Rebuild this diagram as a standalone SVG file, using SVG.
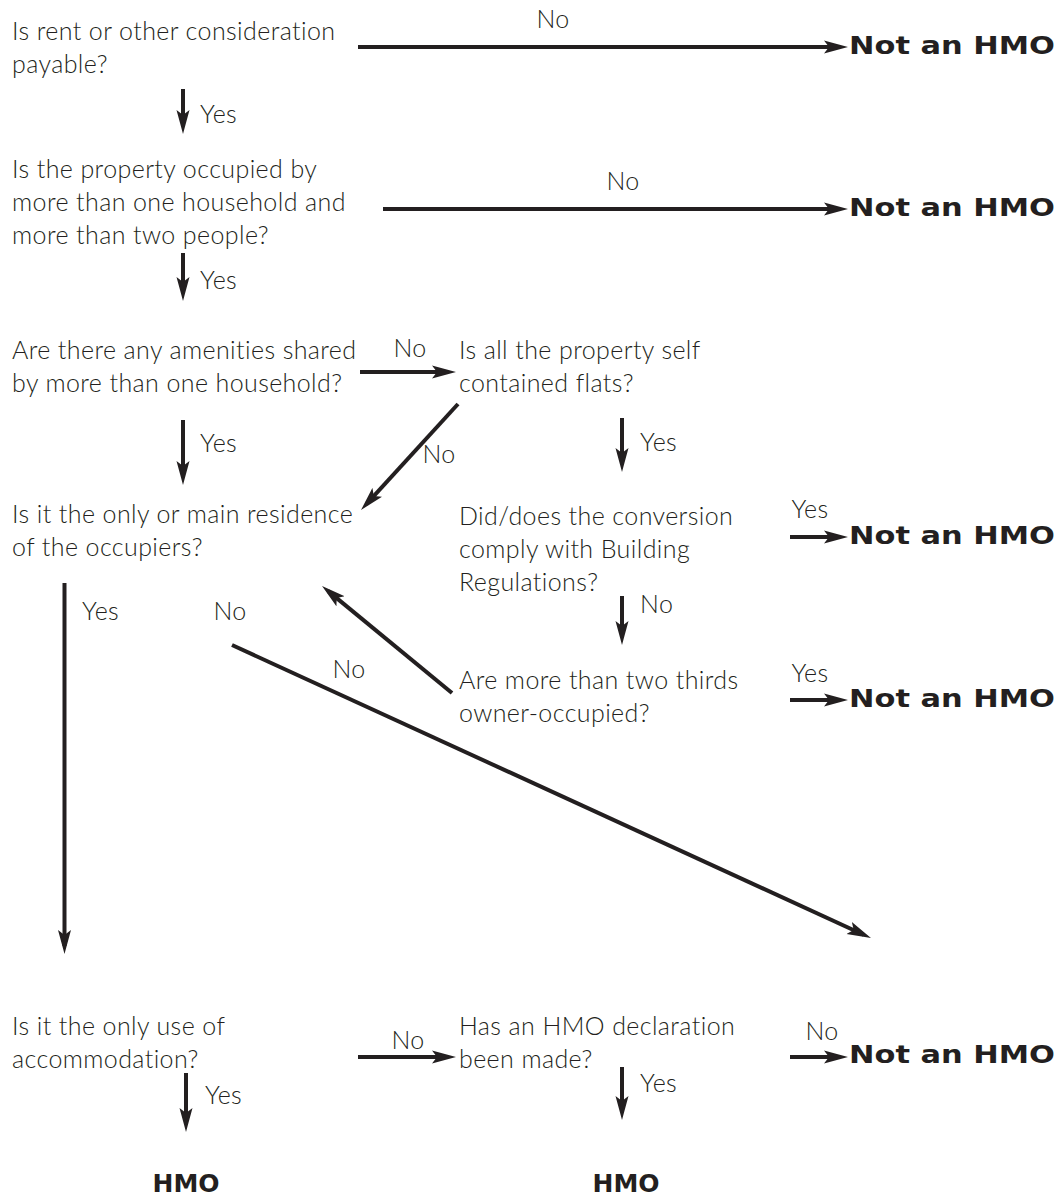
<svg xmlns="http://www.w3.org/2000/svg" width="1060" height="1198" viewBox="0 0 1060 1198">
<style>
.t{font-family:Lato,"Open Sans","Liberation Sans",sans-serif;font-weight:300;font-size:25px;letter-spacing:0.4px;fill:#231f20}
.b{font-family:"DejaVu Sans","Liberation Sans",sans-serif;font-weight:700;font-size:25px;fill:#231f20}
.l{stroke:#231f20;stroke-width:4;fill:none}
</style>
<defs>
<marker id="a" markerUnits="userSpaceOnUse" markerWidth="26" markerHeight="14" refX="16" refY="7" orient="auto">
<path d="M0,0.5 L24,7 L0,13.5 L5,7 Z" fill="#231f20"/>
</marker>
</defs>
<rect width="1060" height="1198" fill="#fff"/>
<g id="connectors">
<line class="l" x1="358" y1="47" x2="840" y2="47" marker-end="url(#a)"/>
<line class="l" x1="183" y1="89" x2="183" y2="126" marker-end="url(#a)"/>
<line class="l" x1="383" y1="209" x2="840" y2="209" marker-end="url(#a)"/>
<line class="l" x1="183" y1="253" x2="183" y2="293" marker-end="url(#a)"/>
<line class="l" x1="360" y1="372" x2="448" y2="372" marker-end="url(#a)"/>
<line class="l" x1="183" y1="420" x2="183" y2="477" marker-end="url(#a)"/>
<line class="l" x1="458" y1="404" x2="366.4" y2="504.1" marker-end="url(#a)"/>
<line class="l" x1="622" y1="418" x2="622" y2="464" marker-end="url(#a)"/>
<line class="l" x1="790" y1="537" x2="840" y2="537" marker-end="url(#a)"/>
<line class="l" x1="622" y1="596" x2="622" y2="637" marker-end="url(#a)"/>
<line class="l" x1="452" y1="693" x2="328.2" y2="591.1" marker-end="url(#a)"/>
<line class="l" x1="790" y1="700" x2="840" y2="700" marker-end="url(#a)"/>
<line class="l" x1="64.5" y1="583" x2="64.5" y2="946" marker-end="url(#a)"/>
<line class="l" x1="232" y1="645" x2="863.7" y2="934.7" marker-end="url(#a)"/>
<line class="l" x1="358" y1="1057" x2="448" y2="1057" marker-end="url(#a)"/>
<line class="l" x1="790" y1="1057" x2="840" y2="1057" marker-end="url(#a)"/>
<line class="l" x1="186" y1="1073" x2="186" y2="1124" marker-end="url(#a)"/>
<line class="l" x1="622" y1="1067" x2="622" y2="1112" marker-end="url(#a)"/>
<text class="t" x="553" y="28" text-anchor="middle">No</text>
<text class="t" x="200" y="123">Yes</text>
<text class="t" x="623" y="190" text-anchor="middle">No</text>
<text class="t" x="200" y="289">Yes</text>
<text class="t" x="410" y="357" text-anchor="middle">No</text>
<text class="t" x="200" y="452">Yes</text>
<text class="t" x="439" y="463" text-anchor="middle">No</text>
<text class="t" x="640" y="451">Yes</text>
<text class="t" x="810" y="518" text-anchor="middle">Yes</text>
<text class="t" x="640" y="613">No</text>
<text class="t" x="82" y="620">Yes</text>
<text class="t" x="230" y="620" text-anchor="middle">No</text>
<text class="t" x="349" y="678" text-anchor="middle">No</text>
<text class="t" x="810" y="682" text-anchor="middle">Yes</text>
<text class="t" x="408" y="1049" text-anchor="middle">No</text>
<text class="t" x="822" y="1040" text-anchor="middle">No</text>
<text class="t" x="205" y="1104">Yes</text>
<text class="t" x="640" y="1092">Yes</text>
</g>
<g id="q1"><text class="t" x="12" y="40">Is rent or other consideration</text><text class="t" x="12" y="73">payable?</text></g>
<g id="n1"><text class="b" x="849" y="54" textLength="206" lengthAdjust="spacingAndGlyphs">Not an HMO</text></g>
<g id="q2"><text class="t" x="12" y="178">Is the property occupied by</text><text class="t" x="12" y="211">more than one household and</text><text class="t" x="12" y="244">more than two people?</text></g>
<g id="n2"><text class="b" x="849" y="216" textLength="206" lengthAdjust="spacingAndGlyphs">Not an HMO</text></g>
<g id="q3"><text class="t" x="12" y="359">Are there any amenities shared</text><text class="t" x="12" y="392">by more than one household?</text></g>
<g id="q4"><text class="t" x="459" y="359">Is all the property self</text><text class="t" x="459" y="392">contained flats?</text></g>
<g id="q5"><text class="t" x="12" y="523">Is it the only or main residence</text><text class="t" x="12" y="556">of the occupiers?</text></g>
<g id="q6"><text class="t" x="459" y="525">Did/does the conversion</text><text class="t" x="459" y="558">comply with Building</text><text class="t" x="459" y="591">Regulations?</text></g>
<g id="n3"><text class="b" x="849" y="544" textLength="206" lengthAdjust="spacingAndGlyphs">Not an HMO</text></g>
<g id="q7"><text class="t" x="459" y="689">Are more than two thirds</text><text class="t" x="459" y="722">owner-occupied?</text></g>
<g id="n4"><text class="b" x="849" y="707" textLength="206" lengthAdjust="spacingAndGlyphs">Not an HMO</text></g>
<g id="q8"><text class="t" x="12" y="1035">Is it the only use of</text><text class="t" x="12" y="1068">accommodation?</text></g>
<g id="q9"><text class="t" x="459" y="1035">Has an HMO declaration</text><text class="t" x="459" y="1068">been made?</text></g>
<g id="n5"><text class="b" x="849" y="1063" textLength="206" lengthAdjust="spacingAndGlyphs">Not an HMO</text></g>
<g id="h1"><text class="b" x="186" y="1192" text-anchor="middle">HMO</text></g>
<g id="h2"><text class="b" x="626" y="1192" text-anchor="middle">HMO</text></g>
</svg>
